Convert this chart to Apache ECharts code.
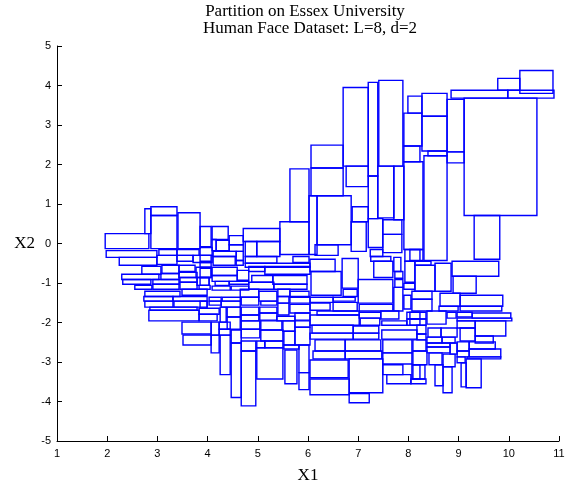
<!DOCTYPE html>
<html><head><meta charset="utf-8">
<script src="https://cdn.jsdelivr.net/npm/echarts@6/dist/echarts.min.js"></script>
<style>html,body{margin:0;padding:0;background:#fff}#c{width:579px;height:489px}</style>
</head><body><div id="c"></div>
<script>
// Each cell: [xMin, xMax, yMin, yMax]
const rectsLeft = [
[1.96,2.83,-0.13,0.25],[2.75,2.87,0.25,0.88],[2.87,3.39,0.71,0.93],[2.87,3.39,-0.13,0.71],
[3.41,3.85,-0.13,0.78],[3.85,4.07,-0.08,0.43],[1.98,2.99,-0.35,-0.18],[3.03,3.39,-0.30,-0.15],
[3.39,3.83,-0.30,-0.15],[3.85,4.09,-0.30,-0.10],[2.24,2.99,-0.55,-0.35],[2.99,3.39,-0.53,-0.30],
[3.39,3.71,-0.45,-0.30],[3.71,4.09,-0.48,-0.30],[2.69,3.07,-0.78,-0.58],[3.09,3.43,-0.76,-0.55],
[3.43,3.75,-0.71,-0.55],[3.77,4.07,-0.86,-0.60],[2.29,3.03,-0.91,-0.78],[3.07,3.43,-0.91,-0.76],
[3.43,3.79,-0.86,-0.73],[2.31,2.87,-1.03,-0.91],[2.91,3.43,-1.03,-0.91],[3.45,3.79,-0.98,-0.86],
[3.79,4.03,-1.06,-0.86],[2.55,2.89,-1.16,-1.06],[2.91,3.43,-1.16,-1.03],[3.45,3.79,-1.16,-0.98],
[3.83,4.05,-1.16,-1.06],[2.75,3.45,-1.34,-1.21],[3.49,3.99,-1.31,-1.16],[2.73,3.31,-1.46,-1.34],
[3.31,3.99,-1.46,-1.34],[2.75,3.31,-1.61,-1.46],[3.33,3.99,-1.61,-1.46],[2.85,3.79,-1.69,-1.61],
[2.83,3.83,-1.96,-1.69],[3.83,4.23,-1.79,-1.64],[3.83,4.19,-1.96,-1.79],[3.49,4.07,-2.29,-1.99],
[3.51,4.07,-2.57,-2.32],[4.07,4.23,-2.32,-1.99],[4.07,4.23,-2.77,-2.32]
];
const rectsMid = [
[4.09,4.41,0.10,0.43],[4.43,4.71,-0.03,0.20],[4.71,5.44,0.05,0.38],[5.44,6.02,-0.28,0.55],
[4.09,4.17,-0.18,0.10],[4.17,4.43,-0.18,0.08],[4.43,4.71,-0.20,-0.03],[4.75,4.98,-0.33,0.05],
[4.98,5.44,-0.33,0.05],[3.85,4.07,-0.45,-0.30],[4.11,4.57,-0.33,-0.20],[4.57,4.71,-0.43,-0.20],
[4.11,4.55,-0.55,-0.33],[4.57,4.71,-0.55,-0.43],[4.75,5.38,-0.50,-0.33],[5.70,6.02,-0.48,-0.33],
[3.85,4.07,-0.60,-0.48],[4.75,6.04,-0.60,-0.50],[3.85,4.07,-0.86,-0.63],[4.09,4.59,-0.81,-0.60],
[4.59,4.82,-0.93,-0.68],[4.82,5.14,-0.71,-0.58],[5.14,6.04,-0.78,-0.58],[4.88,5.30,-0.98,-0.81],
[5.30,5.98,-1.03,-0.81],[4.09,4.59,-0.96,-0.81],[3.85,4.03,-1.06,-0.86],[4.15,4.43,-1.06,-0.96],
[4.43,4.82,-1.03,-0.96],[4.82,5.32,-1.16,-0.98],[5.32,5.98,-1.16,-1.03],[4.09,4.45,-1.18,-1.08],
[4.47,4.82,-1.18,-1.08],[4.65,5.02,-1.36,-1.16],[5.02,5.38,-1.46,-1.21],[5.40,5.64,-1.34,-1.16],
[5.64,6.02,-1.36,-1.21],[4.67,5.02,-1.56,-1.36],[5.40,5.62,-1.51,-1.34],[5.64,6.04,-1.51,-1.34],
[4.03,4.27,-1.46,-1.36],[4.29,4.65,-1.46,-1.36],[4.03,4.27,-1.56,-1.46],[4.27,4.65,-1.61,-1.46],
[3.85,3.99,-1.64,-1.46],[5.06,5.38,-1.56,-1.46],[4.67,5.02,-1.81,-1.61],[5.04,5.38,-1.76,-1.61],
[5.40,5.62,-1.81,-1.51],[5.64,6.04,-1.76,-1.54],[4.25,4.37,-1.99,-1.61],[4.39,4.65,-1.86,-1.61],
[5.04,5.38,-1.94,-1.76],[4.67,5.02,-1.96,-1.81],[5.38,5.74,-1.96,-1.84],[5.74,6.04,-1.94,-1.76],
[4.39,4.65,-2.17,-1.86],[4.23,4.45,-2.17,-1.99],[4.67,5.04,-2.17,-1.96],[5.06,5.48,-2.19,-1.96],
[5.50,5.74,-2.22,-1.96],[5.74,6.04,-2.12,-1.96],[4.67,5.04,-2.39,-2.17],[5.06,5.50,-2.47,-2.19],
[5.52,5.74,-2.57,-2.22],[5.74,6.04,-2.57,-2.12],[4.23,4.45,-2.32,-2.17],[4.25,4.45,-3.32,-2.32],
[4.47,4.67,-2.52,-2.19],[4.47,4.67,-3.90,-2.52],[4.67,4.96,-2.72,-2.47],[4.67,4.96,-4.11,-2.72],
[4.98,5.14,-2.64,-2.47],[5.14,5.50,-2.64,-2.47],[4.98,5.50,-3.43,-2.64],[5.52,5.82,-2.67,-2.57],
[5.54,5.78,-3.55,-2.70],[5.82,6.02,-3.27,-2.57],[5.82,6.02,-3.70,-3.27]
];
const rectsTop = [
[5.64,6.02,0.55,1.89],[6.06,6.70,1.91,2.49],[6.06,6.70,1.21,1.91],[6.02,6.18,-0.28,1.21],
[6.18,6.86,-0.03,1.21],[6.70,7.20,1.96,3.95],[6.76,7.20,1.44,1.96],[6.88,7.20,0.55,0.93],
[6.86,7.16,-0.20,0.55],[7.20,7.39,1.71,4.08],[7.20,7.39,0.63,1.71],[7.41,7.89,1.96,4.13],
[7.39,7.71,0.65,1.96],[7.71,7.91,0.60,1.96],[7.20,7.49,-0.10,0.63],[7.49,7.87,0.23,0.60],
[7.49,7.87,-0.23,0.23],[7.99,8.27,3.30,3.73],[7.91,8.27,2.47,3.30],[7.91,8.23,2.07,2.47],
[7.91,8.29,-0.15,2.07],[8.27,8.77,3.22,3.80],[8.27,8.77,2.34,3.22],[8.39,8.77,2.22,2.34],
[8.31,8.77,-0.43,2.22],[8.77,9.11,2.32,3.65],[8.77,9.11,2.04,2.32],[8.85,9.98,3.68,3.88],
[9.11,10.56,0.71,3.68],[9.78,10.22,3.88,4.18],[9.98,10.90,3.68,3.88],[10.22,10.88,3.80,4.38],
[9.31,9.82,-0.40,0.71]
];
const rectsRight = [
[8.03,8.29,-0.43,-0.15],[8.13,8.45,-0.55,-0.45],[8.13,8.53,-1.21,-0.55],[8.53,8.85,-1.21,-0.50],
[8.87,9.80,-0.83,-0.45],[8.89,9.35,-1.26,-0.83],[8.07,8.47,-1.41,-1.21],[8.07,8.47,-1.71,-1.41],
[8.63,9.03,-1.59,-1.26],[9.03,9.88,-1.59,-1.31],[8.61,8.99,-1.71,-1.59],[9.03,9.86,-1.71,-1.59],
[8.37,8.75,-2.04,-1.71],[8.77,8.95,-1.89,-1.74],[8.97,9.27,-1.86,-1.74],[9.27,10.04,-1.89,-1.76],
[8.97,10.06,-1.96,-1.89],[8.03,8.35,-1.91,-1.74],[8.03,8.35,-2.07,-1.91],[8.97,9.33,-2.14,-1.96],
[9.33,9.94,-2.34,-1.96],[8.39,8.65,-2.37,-2.14],[8.65,8.97,-2.37,-2.14],[9.03,9.33,-2.47,-2.14],
[9.33,9.69,-2.52,-2.34],[8.37,8.67,-2.52,-2.37],[8.67,8.93,-2.52,-2.37],[8.37,8.83,-2.62,-2.52],
[8.37,8.83,-2.77,-2.62],[8.83,8.97,-2.80,-2.52],[8.97,9.21,-2.72,-2.49],[9.21,9.73,-2.67,-2.49],
[8.97,9.21,-2.87,-2.72],[9.21,9.84,-2.87,-2.67],[9.17,9.84,-2.92,-2.87],[8.09,8.35,-2.72,-2.44],
[8.09,8.37,-3.07,-2.72],[8.41,8.67,-3.07,-2.77],[8.69,8.93,-3.12,-2.80],[8.97,9.13,-3.02,-2.87],
[9.05,9.15,-3.63,-3.02],[9.15,9.45,-3.65,-2.92],[8.07,8.33,-3.43,-3.07],[8.05,8.35,-3.55,-3.43],
[8.53,8.69,-3.60,-3.07],[8.69,8.87,-3.78,-3.12],[8.17,8.35,-2.29,-2.07],[8.17,8.35,-2.44,-2.29]
];
const rectsCenter = [
[6.14,6.60,-0.30,-0.03],[7.24,7.49,-0.33,-0.15],[7.25,7.65,-0.45,-0.33],[7.31,7.69,-0.86,-0.45],
[7.71,7.85,-0.71,-0.35],[7.73,7.89,-0.88,-0.71],[7.73,7.89,-1.11,-0.91],[7.93,8.23,-0.45,-0.15],
[7.93,8.13,-0.98,-0.45],[7.91,8.13,-1.16,-1.01],[6.04,6.54,-0.71,-0.40],[6.06,6.66,-1.31,-0.71],
[6.68,7.00,-1.13,-0.38],[6.70,6.98,-1.34,-1.16],[7.00,7.69,-1.51,-0.91],[7.71,7.89,-1.71,-1.11],
[7.91,8.05,-1.66,-1.31],[6.04,6.50,-1.49,-1.36],[6.50,6.94,-1.46,-1.36],[6.04,6.44,-1.69,-1.51],
[6.50,6.98,-1.71,-1.49],[7.02,7.69,-1.71,-1.54],[7.02,7.45,-1.89,-1.74],[6.18,7.02,-1.81,-1.71],
[6.04,7.02,-2.07,-1.81],[7.04,7.43,-2.07,-1.89],[7.45,7.81,-1.91,-1.71],[7.97,8.23,-1.91,-1.74],
[7.47,7.97,-2.07,-1.96],[7.97,8.23,-2.07,-1.91],[6.08,6.90,-2.27,-2.07],[6.90,7.41,-2.27,-2.09],
[6.04,6.90,-2.42,-2.27],[6.90,7.41,-2.42,-2.27],[7.47,8.17,-2.42,-2.19],[6.14,6.74,-2.72,-2.44],
[6.74,7.45,-2.72,-2.44],[6.10,6.74,-2.92,-2.72],[6.74,7.47,-2.92,-2.72],[7.49,8.07,-2.77,-2.44],
[7.49,8.07,-3.05,-2.77],[6.04,6.80,-3.40,-2.95],[6.82,7.49,-3.78,-2.92],[6.04,6.82,-3.83,-3.43],
[6.82,7.22,-4.03,-3.80],[7.49,7.89,-3.32,-3.07],[7.57,8.05,-3.55,-3.32],[8.09,8.23,-3.43,-3.07]
];
const xRange = [1, 11];
const yRange = [-5, 5];
const titleLines = ['Partition on Essex University', 'Human Face Dataset: L=8, d=2'];

const allRects = [].concat(rectsLeft, rectsMid, rectsTop, rectsRight, rectsCenter);
const chart = echarts.init(document.getElementById('c'), null, {renderer: 'canvas'});
const serif = '"Liberation Serif", "DejaVu Serif", serif';
const sans = '"Liberation Sans", Arial, sans-serif';
chart.setOption({
  animation: false,
  backgroundColor: '#ffffff',
  grid: {left: 57, right: 20, top: 46, bottom: 46, containLabel: false},
  graphic: [
    {type: 'text', x: 305, y: 12, style: {text: titleLines[0], textAlign: 'center', textVerticalAlign: 'middle', font: '17px ' + serif, fill: '#000'}},
    {type: 'text', x: 310, y: 29, style: {text: titleLines[1], textAlign: 'center', textVerticalAlign: 'middle', font: '17px ' + serif, fill: '#000'}}
  ],
  xAxis: {
    type: 'value', min: xRange[0], max: xRange[1], interval: 1,
    name: 'X1', nameLocation: 'middle', nameGap: 26,
    nameTextStyle: {fontFamily: serif, fontSize: 17, color: '#000'},
    axisLine: {show: true, onZero: false, lineStyle: {color: '#000', width: 1}},
    axisTick: {show: true, inside: true, length: 5, lineStyle: {color: '#000'}},
    axisLabel: {fontFamily: sans, fontSize: 11, color: '#000', margin: 7},
    splitLine: {show: false}
  },
  yAxis: {
    type: 'value', min: yRange[0], max: yRange[1], interval: 1,
    name: 'X2', nameLocation: 'middle', nameGap: 22, nameRotate: 0,
    nameTextStyle: {fontFamily: serif, fontSize: 17, color: '#000'},
    axisLine: {show: true, onZero: false, lineStyle: {color: '#000', width: 1}},
    axisTick: {show: true, inside: true, length: 5, lineStyle: {color: '#000'}},
    axisLabel: {fontFamily: sans, fontSize: 11, color: '#000', margin: 6},
    splitLine: {show: false}
  },
  series: [{
    type: 'custom',
    data: allRects,
    encode: {x: [0, 1], y: [2, 3]},
    renderItem: function (params, api) {
      const p1 = api.coord([api.value(0), api.value(3)]);
      const p2 = api.coord([api.value(1), api.value(2)]);
      return {
        type: 'rect',
        shape: {x: p1[0], y: p1[1], width: p2[0] - p1[0], height: p2[1] - p1[1]},
        style: {fill: 'none', stroke: '#0000ff', lineWidth: 1.4}
      };
    }
  }]
});
</script>
</body></html>
